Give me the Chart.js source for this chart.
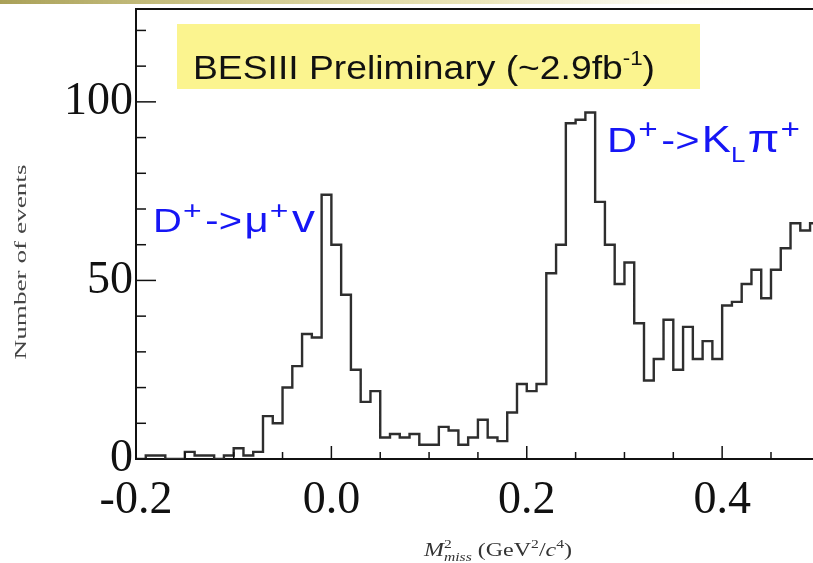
<!DOCTYPE html>
<html>
<head>
<meta charset="utf-8">
<script src="https://cdn.jsdelivr.net/npm/chart.js@4.4.1/dist/chart.umd.min.js"></script>
<style>
  html, body { margin: 0; padding: 0; background: #fff; }
  #wrap { width: 813px; height: 563px; position: relative; }
</style>
</head>
<body>
<div id="wrap"><canvas id="mmiss"></canvas></div>
<script>
// Missing-mass-squared histogram, 0.01 GeV^2/c^4 bins from -0.2
const binLow = -0.2;
const binWidth = 0.01;
const counts = [
  0, 1, 1, 0, 0, 2, 1, 1, 0, 1,          // -0.20 .. -0.11
  3, 1, 2, 12, 10, 20, 26, 35, 34, 74,   // -0.10 .. -0.01
  60, 46, 25, 16, 19, 6, 7, 6, 7, 4,     //  0.00 ..  0.09
  4, 9, 8, 4, 6, 11, 6, 5, 13, 21,       //  0.10 ..  0.19
  19, 21, 52, 60, 94, 95, 97, 72, 60, 49,//  0.20 ..  0.29
  55, 38, 22, 28, 39, 25, 37, 28, 33, 28,//  0.30 ..  0.39
  43, 44, 49, 53, 45, 53, 59, 66, 64, 66 //  0.40 ..  0.49
];
const xMajorTicks = [-0.2, 0.0, 0.2, 0.4];
const yMajorTicks = [0, 50, 100];
const xMinorStep = 0.05;
const yMinorStep = 10;

// left bin edges, plus a closing point for the last bin
const points = counts.map((c, i) => ({ x: +(binLow + i * binWidth).toFixed(2), y: c }));
points.push({ x: +(binLow + counts.length * binWidth).toFixed(2), y: counts[counts.length - 1] });

const SERIF = '"Liberation Serif", "Times New Roman", serif';
const SANS = '"Liberation Sans", Arial, sans-serif';

function partSize(p, size) {
  if (p.rel) return size * p.rel;
  return (p.sup || p.sub) ? size * 0.68 : size;
}

function richWidth(ctx, parts, size, family) {
  let w = 0;
  for (const p of parts) {
    ctx.font = (p.italic ? 'italic ' : '') + partSize(p, size) + 'px ' + family;
    if (!p.stack) w += ctx.measureText(p.t).width + (p.gap || 0);
  }
  return w;
}

// text with superscripts / subscripts, optionally stretched to a given width
function drawRich(ctx, x, y, parts, size, family, color, width) {
  const natural = richWidth(ctx, parts, size, family);
  const sx = width ? width / natural : 1;
  ctx.save();
  ctx.translate(x, y);
  ctx.scale(sx, 1);
  ctx.fillStyle = color;
  ctx.textBaseline = 'alphabetic';
  ctx.textAlign = 'left';
  let cx = 0;
  for (const p of parts) {
    ctx.font = (p.italic ? 'italic ' : '') + partSize(p, size) + 'px ' + family;
    const dy = p.sup ? -size * 0.4 : p.sub ? size * 0.28 : 0;
    ctx.fillText(p.t, cx, dy);
    if (!p.stack) cx += ctx.measureText(p.t).width + (p.gap || 0);
  }
  ctx.restore();
}

const frameAndLabels = {
  id: 'frameAndLabels',
  beforeDraw(chart) {
    const ctx = chart.ctx;
    // slide header strip
    const g = ctx.createLinearGradient(0, 0, 813, 0);
    g.addColorStop(0, 'rgba(160,150,70,0.9)');
    g.addColorStop(0.6, 'rgba(215,205,120,0.5)');
    g.addColorStop(1, 'rgba(255,255,255,0)');
    ctx.fillStyle = g;
    ctx.fillRect(0, 0, 813, 4);
  },
  afterDraw(chart) {
    const ctx = chart.ctx;
    const a = chart.chartArea;
    const xs = chart.scales.x, ys = chart.scales.y;
    ctx.save();
    ctx.strokeStyle = '#111';
    ctx.lineWidth = 2;
    // top frame line
    ctx.beginPath();
    ctx.moveTo(a.left, a.top);
    ctx.lineTo(a.right, a.top);
    ctx.stroke();
    // inward ticks on the x axis
    ctx.lineWidth = 1.5;
    for (let v = xs.min; v <= xs.max + 1e-9; v += xMinorStep) {
      const r = Math.round(v * 100) / 100;
      const major = xMajorTicks.some(t => Math.abs(t - r) < 1e-6);
      const px = xs.getPixelForValue(r);
      ctx.beginPath();
      ctx.moveTo(px, a.bottom);
      ctx.lineTo(px, a.bottom - (major ? 13 : 7));
      ctx.stroke();
    }
    // inward ticks on the y axis
    for (let v = ys.min; v <= ys.max; v += yMinorStep) {
      const major = yMajorTicks.includes(v);
      const py = ys.getPixelForValue(v);
      ctx.beginPath();
      ctx.moveTo(a.left, py);
      ctx.lineTo(a.left + (major ? 20 : 10), py);
      ctx.stroke();
    }
    ctx.restore();

    // legend box
    ctx.fillStyle = '#fbf48f';
    ctx.fillRect(177, 24, 523, 65);
    drawRich(ctx, 193, 79, [
      { t: 'BESIII Preliminary (~2.9fb' },
      { t: '-1', sup: true, rel: 0.6 },
      { t: ')' }
    ], 34, SANS, '#111', 462);

    // peak labels
    drawRich(ctx, 153, 232, [
      { t: 'D', gap: 1 }, { t: '+', sup: true, rel: 0.8, gap: 3 }, { t: '->', gap: 2 },
      { t: '\u03bc', rel: 1.05, gap: 1 }, { t: '+', sup: true, rel: 0.8, gap: 3 }, { t: 'v', rel: 1.15 }
    ], 33, SANS, '#1616f5', 162);
    drawRich(ctx, 607, 152, [
      { t: 'D', gap: 1 }, { t: '+', sup: true, rel: 0.8, gap: 3 }, { t: '->', gap: 2 },
      { t: 'K', rel: 1.05 }, { t: 'L', sub: true, rel: 0.62, gap: 2 },
      { t: '\u03c0', rel: 1.1, gap: 1 }, { t: '+', sup: true, rel: 0.8 }
    ], 35, SANS, '#1616f5', 193);

    // axis titles
    const xt = [
      { t: 'M', italic: true }, { t: '2', sup: true, stack: true, rel: 0.65 },
      { t: 'miss', sub: true, italic: true, rel: 0.65 },
      { t: ' (GeV' }, { t: '2', sup: true, rel: 0.65 }, { t: '/' },
      { t: 'c', italic: true }, { t: '4', sup: true, rel: 0.65 }, { t: ')' }
    ];
    drawRich(ctx, 424, 556, xt, 19, SERIF, '#333', 148);

    ctx.save();
    ctx.translate(26, 262);
    ctx.rotate(-Math.PI / 2);
    ctx.font = '19px ' + SERIF;
    const tw = ctx.measureText('Number of events').width;
    ctx.scale(195 / tw, 0.9);
    ctx.fillStyle = '#444';
    ctx.textAlign = 'center';
    ctx.textBaseline = 'alphabetic';
    ctx.fillText('Number of events', 0, 0);
    ctx.restore();
  }
};

new Chart(document.getElementById('mmiss'), {
  type: 'line',
  data: {
    datasets: [{
      data: points,
      stepped: 'before',
      borderColor: '#2e2e2e',
      borderWidth: 2.4,
      pointRadius: 0,
      fill: false
    }]
  },
  options: {
    responsive: true,
    maintainAspectRatio: false,
    animation: false,
    layout: { padding: { top: 9, right: 0, left: 0, bottom: 0 } },
    plugins: { legend: { display: false }, tooltip: { enabled: false } },
    scales: {
      x: {
        type: 'linear',
        min: -0.2,
        max: 0.493,
        afterFit: s => { s.height = 104; s.paddingLeft = 0; s.paddingRight = 0; },
        afterBuildTicks: s => { s.ticks = xMajorTicks.map(v => ({ value: v })); },
        grid: { display: false, drawTicks: false },
        border: { display: true, color: '#111', width: 2 },
        ticks: {
          autoSkip: false,
          maxRotation: 0,
          padding: 14,
          color: '#111',
          font: { family: SERIF, size: 46 },
          callback: v => v.toFixed(1)
        }
      },
      y: {
        min: 0,
        max: 126,
        afterFit: s => { s.width = 136; s.paddingTop = 0; s.paddingBottom = 0; },
        afterBuildTicks: s => { s.ticks = yMajorTicks.map(v => ({ value: v })); },
        grid: { display: false, drawTicks: false },
        border: { display: true, color: '#111', width: 2 },
        ticks: {
          padding: 3,
          color: '#111',
          font: { family: SERIF, size: 46 },
          callback: v => String(v)
        }
      }
    }
  },
  plugins: [frameAndLabels]
});
</script>
</body>
</html>
